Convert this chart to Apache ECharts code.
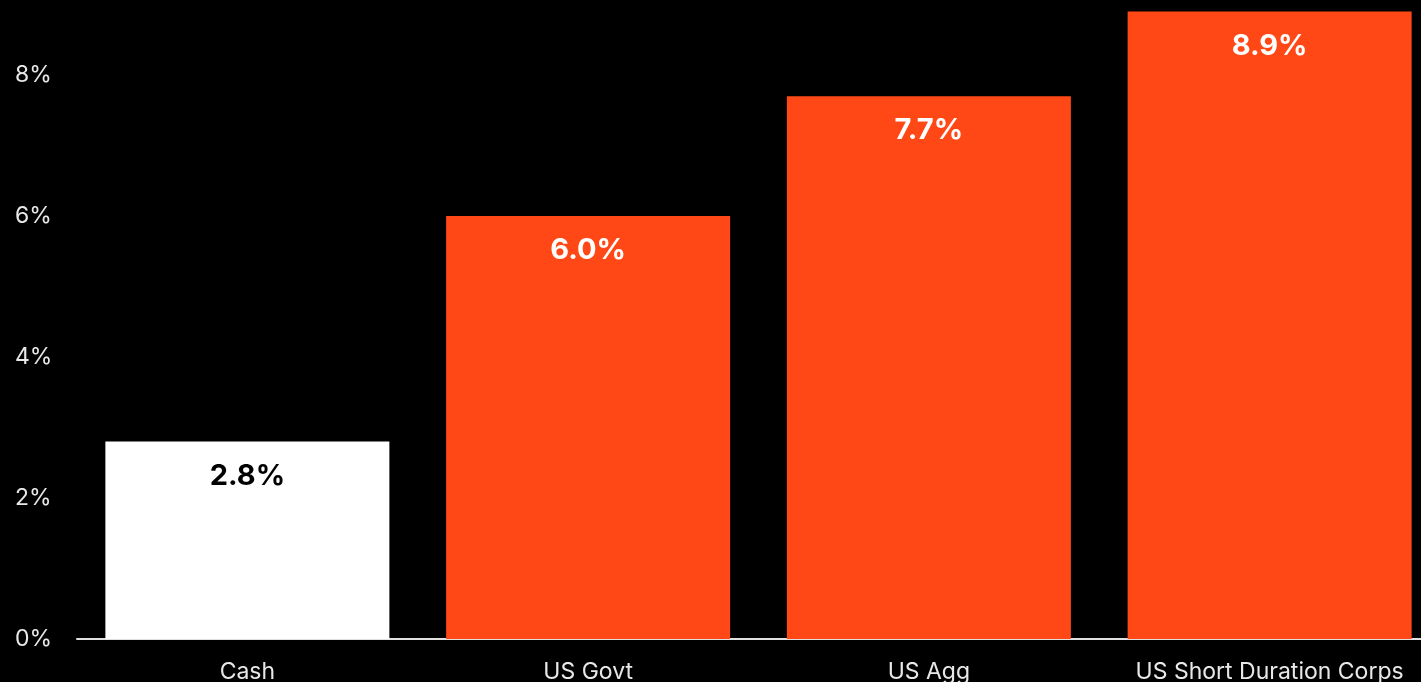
<!DOCTYPE html>
<html>
<head>
<meta charset="utf-8">
<script src="https://cdn.jsdelivr.net/npm/echarts@6/dist/echarts.min.js"></script>
<style>
  html, body { margin: 0; padding: 0; background: #000; overflow: hidden; }
  /* the plot runs slightly past the right edge of the window */
  #chart { width: 1440px; height: 682px; }
</style>
</head>
<body>
<div id="chart"></div>
<script>
// Asset classes and their yields (%)
const categories = ['Cash', 'US Govt', 'US Agg', 'US Short Duration Corps'];
const yields = [2.8, 6.0, 7.7, 8.9];
const barColors = ['#ffffff', '#ff4815', '#ff4815', '#ff4815'];
const labelColors = ['#000000', '#ffffff', '#ffffff', '#ffffff'];

const FONT = 'Inter, "Noto Sans", sans-serif';

const chart = echarts.init(document.getElementById('chart'));
chart.setOption({
  backgroundColor: '#000000',
  animation: false,
  grid: { left: 77, top: 4.5, bottom: 43, right: 0, outerBoundsMode: 'none' },
  xAxis: {
    type: 'category',
    data: categories,
    axisLine: { show: true, lineStyle: { color: '#e0e0e0', width: 2 } },
    axisTick: { show: false },
    axisLabel: { interval: 0, color: '#e8e8e8', fontSize: 23, fontFamily: FONT, margin: 22 }
  },
  yAxis: {
    type: 'value',
    min: 0,
    max: 9,
    interval: 2,
    splitLine: { show: false },
    axisLine: { show: false },
    axisTick: { show: false },
    axisLabel: {
      showMaxLabel: false,
      color: '#e8e8e8',
      fontSize: 23,
      fontFamily: FONT,
      align: 'left',
      margin: 62,
      padding: [4, 0, 0, 0],
      formatter: v => v + '%'
    }
  },
  series: [{
    type: 'bar',
    barWidth: 284,
    data: yields.map((v, i) => ({
      value: v,
      itemStyle: { color: barColors[i] },
      label: { color: labelColors[i] }
    })),
    label: {
      show: true,
      position: 'insideTop',
      distance: 20,
      fontSize: 29,
      fontWeight: 'bold',
      fontFamily: FONT,
      formatter: p => p.value.toFixed(1) + '%'
    }
  }]
});
</script>
</body>
</html>
